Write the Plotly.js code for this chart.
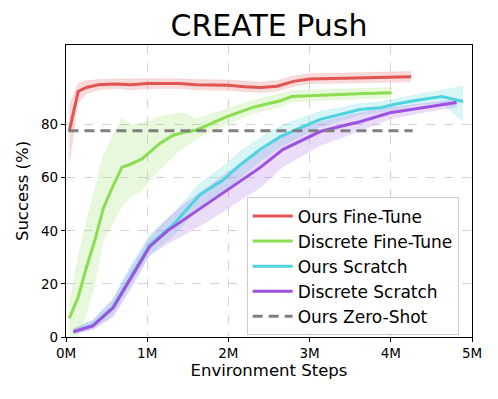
<!DOCTYPE html>
<html>
<head>
<meta charset="utf-8">
<script src="https://cdn.plot.ly/plotly-3.0.1.min.js"></script>
<style>
  html, body { margin: 0; padding: 0; background: #fff; }
  #chart { width: 498px; height: 399px; }
</style>
</head>
<body>
<div id="chart"></div>
<script>
// environment steps in millions
const redX = [0.04, 0.15, 0.25, 0.4, 0.6, 0.8, 1.0, 1.2, 1.4, 1.6, 1.8, 2.0, 2.2, 2.4, 2.6, 2.8, 3.0, 3.5, 4.0, 4.25];
const redY = [77.5, 92.5, 94, 95, 95.3, 95, 95.5, 95.5, 95.5, 95, 95, 94.8, 94.3, 94, 94.5, 96.3, 97.2, 97.5, 97.8, 98];
const redLo = [64, 88, 91.5, 93, 93.5, 93, 93.5, 93.5, 93.5, 93, 93, 92.8, 92.3, 92, 92.5, 94.3, 95.3, 95.5, 95.8, 96];
const redHi = [87, 95.5, 96.5, 97, 97.2, 97.2, 97.3, 97.3, 97.3, 97, 97, 96.8, 96.3, 96, 96.5, 98.3, 99.2, 99.5, 99.8, 100];

const greenX = [0.04, 0.15, 0.25, 0.36, 0.46, 0.58, 0.69, 0.79, 0.93, 1.05, 1.16, 1.32, 1.44, 1.61, 1.8, 1.98, 2.3, 2.64, 2.78, 3.2, 3.6, 4.01];
const greenY = [7, 15, 26, 37, 48.5, 57, 64, 65, 67, 70, 73, 76, 77, 78, 80.5, 83, 86.5, 89, 90.6, 91.2, 91.6, 92];
const greenLo = [0, 0, 8, 20, 36, 43, 49, 52.5, 55, 59.5, 63, 68, 71, 74.5, 77.5, 80, 84, 86.5, 88.5, 89, 89.5, 90];
const greenHi = [12, 30, 43, 56, 68, 76, 82.5, 80, 80.5, 81.5, 83, 84, 84.5, 82, 84, 86, 89, 91.5, 92.8, 93.2, 93.6, 94];

const cyanX = [0.09, 0.33, 0.58, 0.8, 1.03, 1.32, 1.65, 1.93, 2.15, 2.39, 2.64, 2.9, 3.13, 3.4, 3.62, 3.87, 4.1, 4.36, 4.63, 4.89];
const cyanY = [2, 4.5, 11.3, 23, 34.7, 42.3, 53.6, 59, 65, 70.6, 75.5, 79, 82, 84, 85.7, 86.4, 88, 89.4, 90.6, 88.7];
const cyanLo = [1, 3, 8, 19, 31, 38, 49, 54, 60, 66, 71.5, 75.5, 79, 81.5, 83.5, 84.5, 86, 87.5, 88, 81];
const cyanHi = [3, 6.5, 14.5, 27, 38.5, 46.5, 58, 64, 70, 75, 79.5, 82.5, 85, 86.5, 88, 88.5, 90, 91.5, 93, 94.5];

const purpleX = [0.09, 0.33, 0.58, 0.8, 1.03, 1.25, 1.49, 1.75, 1.98, 2.2, 2.39, 2.67, 2.9, 3.13, 3.4, 3.62, 3.99, 4.24, 4.5, 4.81];
const purpleY = [2, 4.2, 11, 22, 34, 40, 45, 50.5, 55.5, 60, 63.8, 70.6, 74, 77.4, 79.5, 81.1, 84.5, 85.7, 86.7, 88.3];
const purpleLo = [1, 2.5, 7.5, 18, 30.5, 35, 39, 43.5, 48, 52.5, 56, 64, 68, 72, 75, 77.5, 82, 83.5, 85, 86.5];
const purpleHi = [3, 6, 14, 26, 37.5, 44.5, 51, 56.5, 62, 66, 69.5, 75.5, 78.5, 81, 83, 84.5, 86.5, 87.5, 88.5, 89.5];

const zeroShotX = [0.03, 4.27];
const zeroShotY = [77.7, 77.7];

const xTicks = [0, 1, 2, 3, 4, 5];
const xTickText = ['0M', '1M', '2M', '3M', '4M', '5M'];
const yTicks = [0, 20, 40, 60, 80];

const series = [
  { name: 'Ours Fine-Tune', x: redX, y: redY, lo: redLo, hi: redHi, color: '#e05551', fill: 'rgba(224,85,81,0.22)' },
  { name: 'Discrete Fine-Tune', x: greenX, y: greenY, lo: greenLo, hi: greenHi, color: '#8ade4f', fill: 'rgba(138,222,79,0.2)' },
  { name: 'Ours Scratch', x: cyanX, y: cyanY, lo: cyanLo, hi: cyanHi, color: '#4fd3df', fill: 'rgba(79,211,223,0.22)' },
  { name: 'Discrete Scratch', x: purpleX, y: purpleY, lo: purpleLo, hi: purpleHi, color: '#9c52e0', fill: 'rgba(156,82,224,0.2)' },
];

const traces = [];
series.forEach(s => {
  traces.push({ x: s.x, y: s.lo, mode: 'lines', line: { width: 0, color: s.fill }, showlegend: false, hoverinfo: 'skip' });
  traces.push({ x: s.x, y: s.hi, mode: 'lines', line: { width: 0.6, color: s.fill }, fill: 'tonexty', fillcolor: s.fill, showlegend: false, hoverinfo: 'skip' });
});
series.forEach(s => {
  traces.push({ x: s.x, y: s.y, name: s.name, mode: 'lines', line: { width: 3, color: s.color } });
});
traces.push({ x: zeroShotX, y: zeroShotY, name: 'Ours Zero-Shot', mode: 'lines', line: { width: 3, color: '#808080', dash: '10px,6px' } });

const axisCommon = {
  showline: true, mirror: true, linecolor: '#000', linewidth: 1.3,
  ticks: 'outside', ticklen: 4, tickcolor: '#000',
  showgrid: true, gridcolor: '#d4d4d4', griddash: 'dash', gridwidth: 1,
  zeroline: false,
  tickfont: { size: 13.5, color: '#000' },
};

Plotly.newPlot('chart', traces, {
  width: 498, height: 399,
  margin: { l: 66, r: 26, t: 45, b: 62 },
  paper_bgcolor: '#fff', plot_bgcolor: '#fff',
  font: { family: 'DejaVu Sans, sans-serif', color: '#000' },
  title: { text: 'CREATE Push', font: { size: 30 }, x: 0.5, xref: 'paper', y: 0.935, yref: 'container', yanchor: 'middle' },
  xaxis: Object.assign({}, axisCommon, {
    range: [0, 5], tickmode: 'array', tickvals: xTicks, ticktext: xTickText,
    title: { text: 'Environment Steps', font: { size: 16.5 }, standoff: 4 },
  }),
  yaxis: Object.assign({}, axisCommon, {
    range: [0, 110], tickmode: 'array', tickvals: yTicks,
    title: { text: 'Success (%)', font: { size: 16.5 }, standoff: 8 },
  }),
  legend: {
    x: 0.445, y: 0.478, xanchor: 'left', yanchor: 'top', traceorder: 'normal',
    bgcolor: 'rgba(255,255,255,0.85)', bordercolor: '#cccccc', borderwidth: 1,
    font: { size: 17 }, tracegroupgap: 0, itemwidth: 40,
  },
  showlegend: true,
}, { displayModeBar: false, responsive: false });
</script>
</body>
</html>
